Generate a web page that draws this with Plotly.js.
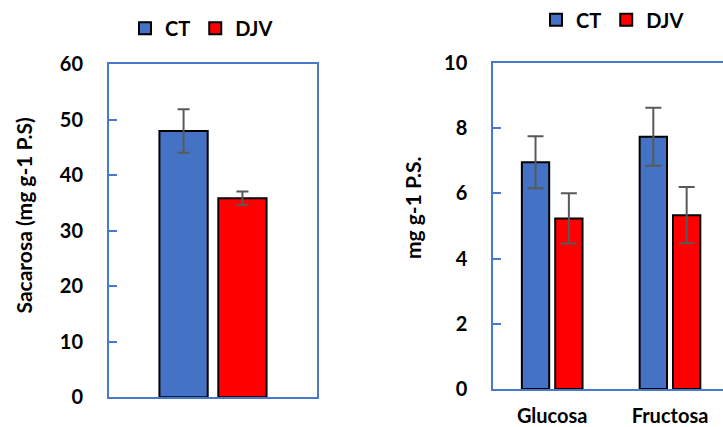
<!DOCTYPE html>
<html>
<head>
<meta charset="utf-8">
<script src="https://cdn.plot.ly/plotly-3.0.1.min.js"></script>
<style>html,body{margin:0;padding:0;overflow:hidden;background:#fff}</style>
</head>
<body>
<div id="chart" style="width:723px;height:427px"></div>
<script>
// ---- data ----
var seriesNames = ["CT", "DJV"];
var leftCategories = ["Sacarosa"];
var leftCT = [48.0];
var leftCTErr = [3.9];
var leftDJV = [35.9];
var leftDJVErr = [1.2];

var rightCategories = ["Glucosa", "Fructosa"];
var rightCT = [6.95, 7.73];
var rightCTErr = [0.8, 0.89];
var rightDJV = [5.23, 5.33];
var rightDJVErr = [0.77, 0.86];

var leftTicks = [0, 10, 20, 30, 40, 50, 60];
var rightTicks = [0, 2, 4, 6, 8, 10];

var leftYTitle = "Sacarosa (mg g-1 P.S)";
var rightYTitle = "mg g-1 P.S.";

// ---- style ----
var W = 723, H = 427;
var FONT = "Lato, 'Liberation Sans', Arial, sans-serif";
var blue = "#4472C4", red = "#FF0000", frame = "#4a78cc", errCol = "#595959";
function px(x){return x / W;}
function py(y){return 1 - y / H;}

function barTrace(name, x, y, err, color, xa, ya, legend, show, cap){
  return {
    type: "bar", name: name, x: x, y: y,
    xaxis: xa, yaxis: ya, legend: legend, showlegend: show,
    marker: {color: color, line: {color: "#000", width: 2}},
    error_y: {type: "data", array: err, visible: true, color: errCol, thickness: 2, width: cap}
  };
}

var data = [
  barTrace(seriesNames[0], leftCategories, leftCT, leftCTErr, blue, "x", "y", "legend", true, 6),
  barTrace(seriesNames[1], leftCategories, leftDJV, leftDJVErr, red, "x", "y", "legend", true, 6),
  barTrace(seriesNames[0], rightCategories, rightCT, rightCTErr, blue, "x2", "y2", "legend2", true, 8),
  barTrace(seriesNames[1], rightCategories, rightDJV, rightDJVErr, red, "x2", "y2", "legend2", true, 8)
];

var tickFont = {family: FONT, size: 20, color: "#000", weight: "bold"};
var catFont = {family: FONT, size: 20, color: "#000", weight: "bold"};
var legFont = {family: FONT, size: 20, color: "#000", weight: "bold"};
var titleFont = {family: FONT, size: 21, color: "#000", weight: "bold"};

var layout = {
  width: W, height: H,
  margin: {l: 0, r: 0, t: 0, b: 0, pad: 0},
  paper_bgcolor: "#fff", plot_bgcolor: "#fff",
  barmode: "group", bargap: 0.434, bargroupgap: 0.18,
  font: {family: FONT, color: "#000"},
  xaxis: {
    domain: [px(109), px(317)], range: [-0.5, 0.5], anchor: "y",
    showticklabels: false, ticks: "", showgrid: false, zeroline: false,
    showline: true, linecolor: frame, linewidth: 2, mirror: true, fixedrange: true
  },
  yaxis: {
    domain: [py(397), py(61)], range: [0, 60], anchor: "x",
    tickvals: leftTicks, ticks: "inside", ticklen: 8, tickwidth: 2, tickcolor: frame,
    showgrid: false, zeroline: false, showline: true, linecolor: frame, linewidth: 2, mirror: true,
    tickfont: tickFont, ticklabelstandoff: 20, fixedrange: true
  },
  xaxis2: {
    domain: [px(493.3), 1], range: [-0.5, 1.45], anchor: "y2", type: "category",
    ticks: "", showgrid: false, zeroline: false,
    showline: true, linecolor: frame, linewidth: 2, mirror: true,
    tickfont: catFont, ticklabelstandoff: 8, fixedrange: true
  },
  yaxis2: {
    domain: [py(388.7), py(59.3)], range: [0, 10], anchor: "x2",
    tickvals: rightTicks, ticks: "inside", ticklen: 8, tickwidth: 2, tickcolor: frame,
    showgrid: false, zeroline: false, showline: true, linecolor: frame, linewidth: 2, mirror: false,
    tickfont: tickFont, ticklabelstandoff: 20, fixedrange: true
  },
  legend: {
    orientation: "h", x: px(125), y: py(24.5), xanchor: "left", yanchor: "middle",
    font: legFont, bgcolor: "rgba(0,0,0,0)", borderwidth: 0, traceorder: "normal"
  },
  legend2: {
    orientation: "h", x: px(536), y: py(16), xanchor: "left", yanchor: "middle",
    font: legFont, bgcolor: "rgba(0,0,0,0)", borderwidth: 0, traceorder: "normal"
  },
  annotations: [
    {text: leftYTitle, xref: "paper", yref: "paper", x: px(23), y: py(213.5),
     xanchor: "center", yanchor: "middle", textangle: -90, showarrow: false,
     font: titleFont},
    {text: rightYTitle, xref: "paper", yref: "paper", x: px(412), y: py(206),
     xanchor: "center", yanchor: "middle", textangle: -90, showarrow: false,
     font: titleFont}
  ]
};

Plotly.newPlot("chart", data, layout, {displayModeBar: false, staticPlot: true});
</script>
</body>
</html>
